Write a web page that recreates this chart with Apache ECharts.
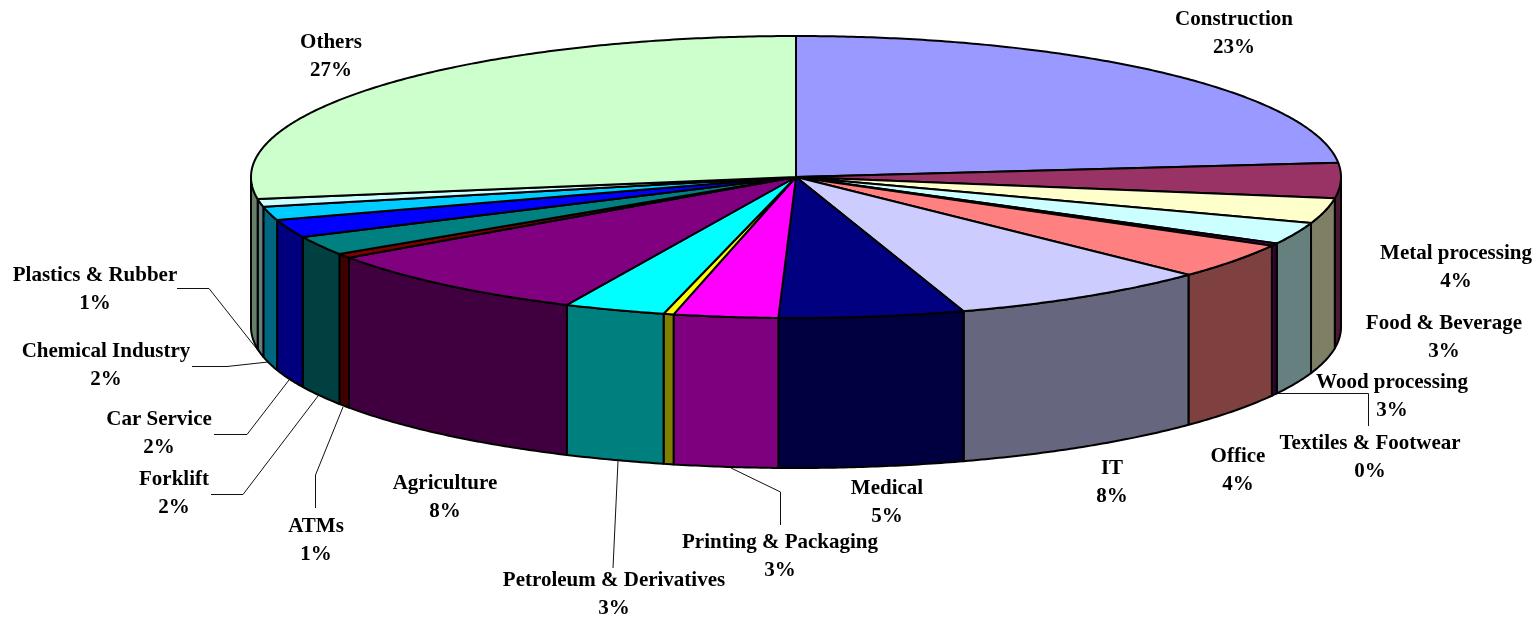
<!DOCTYPE html>
<html>
<head>
<meta charset="utf-8">
<title>Sectors</title>
<script src="https://cdn.jsdelivr.net/npm/echarts@6/dist/echarts.min.js"></script>
<style>
  html, body { margin: 0; padding: 0; background: #fff; }
  #chart { width: 1537px; height: 619px; }
</style>
</head>
<body>
<div id="chart"></div>
<script>
// clockwise from 12 o'clock, the yellow slice has no label in the original
const categories = ['Construction', 'Metal processing', 'Food & Beverage', 'Wood processing', 'Textiles & Footwear', 'Office', 'IT', 'Medical', 'Printing & Packaging', '', 'Petroleum & Derivatives', 'Agriculture', 'ATMs', 'Forklift', 'Car Service', 'Chemical Industry', 'Plastics & Rubber', 'Others']
const shares = [23.4, 4.0, 2.9, 2.5, 0.3, 4.1, 7.82, 5.49, 3.09, 0.3, 3.0, 8.4, 0.5, 2.2, 2.05, 1.55, 0.9, 27.49]
const colors = ['#9999FF', '#993366', '#FFFFCC', '#CCFFFF', '#660066', '#FF8080', '#CCCCFF', '#000080', '#FF00FF', '#FFFF00', '#00FFFF', '#800080', '#800000', '#008080', '#0000FF', '#00CCFF', '#CCFFFF', '#CCFFCC']

// label block centres, same order as categories
const labelCenters = [[1234, 34], [1456, 268], [1444, 338], [1392, 397], [1370, 458], [1238, 471], [1112, 483], [887, 503], [780, 557], null, [614, 595], [445, 498], [316, 541], [174, 494], [159, 434], [106, 366], [95, 290], [331, 57]]
const leaderLines = [
  [[1277, 393.5], [1368.5, 393.5], [1368.5, 426]],
  [[731, 468], [780.5, 492], [780.5, 525]],
  [[618, 461], [613, 568]],
  [[315.5, 508], [315.5, 475], [343, 407]],
  [[211, 494.5], [243, 494.5], [318, 396]],
  [[214, 434.5], [247, 434.5], [289, 380]],
  [[192, 366.5], [227, 366.5], [268, 362]],
  [[177, 288.5], [209, 288.5], [260, 353]]
]

const cx = 796
const cy = 177
const rx = 545
const ry = 141
const depth = 150
const total = shares.reduce((a, b) => a + b, 0)

const rim = (deg, drop = 0) => {
  const a = deg * Math.PI / 180
  return [cx + rx * Math.sin(a), cy - ry * Math.cos(a) + drop]
}

const arc = (from, to, drop) => {
  const pts = []
  const steps = Math.max(2, Math.ceil(Math.abs(to - from) * 2))
  for (let i = 0; i <= steps; i++) pts.push(rim(from + (to - from) * i / steps, drop))
  return pts
}

const halfColor = (hex) => {
  const n = parseInt(hex.slice(1), 16)
  return `rgb(${(n >> 16) >> 1},${((n >> 8) & 255) >> 1},${(n & 255) >> 1})`
}

const edge = { stroke: '#000', lineWidth: 2, lineJoin: 'round' }

const renderSlice = (params, api) => {
  const i = params.dataIndex
  const before = shares.slice(0, i).reduce((a, b) => a + b, 0)
  const start = before / total * 360
  const end = (before + api.value(0)) / total * 360
  const children = []

  // only the front half of the wall can be seen
  const wallFrom = Math.max(start, 90)
  const wallTo = Math.min(end, 270)
  if (wallFrom < wallTo) {
    children.push({
      type: 'polygon',
      shape: { points: arc(wallFrom, wallTo, 0).concat(arc(wallTo, wallFrom, depth)) },
      style: { fill: halfColor(colors[i]), ...edge }
    })
  }
  children.push({
    type: 'polygon',
    shape: { points: [[cx, cy]].concat(arc(start, end, 0)) },
    style: { fill: colors[i], ...edge }
  })
  return { type: 'group', children }
}

const renderLabel = (params) => {
  const i = params.dataIndex
  if (!labelCenters[i]) return null
  return {
    type: 'text',
    style: {
      x: labelCenters[i][0],
      y: labelCenters[i][1],
      text: `${categories[i]}\n${Math.round(shares[i])}%`,
      fill: '#000',
      font: 'bold 21px "Liberation Serif"',
      lineHeight: 28,
      align: 'center',
      verticalAlign: 'middle'
    }
  }
}

const renderLeader = (params) => ({
  type: 'polyline',
  shape: { points: leaderLines[params.dataIndex] },
  style: { fill: 'none', stroke: '#111', lineWidth: 1 }
})

const chart = echarts.init(document.getElementById('chart'), null, { renderer: 'canvas' })
chart.setOption({
  animation: false,
  backgroundColor: '#fff',
  series: [
    { type: 'custom', coordinateSystem: 'none', silent: true, renderItem: renderLeader, data: leaderLines.map((_, i) => i) },
    { type: 'custom', coordinateSystem: 'none', silent: true, renderItem: renderSlice, data: shares },
    { type: 'custom', coordinateSystem: 'none', silent: true, renderItem: renderLabel, data: categories.map((_, i) => i) }
  ]
})
</script>
</body>
</html>
